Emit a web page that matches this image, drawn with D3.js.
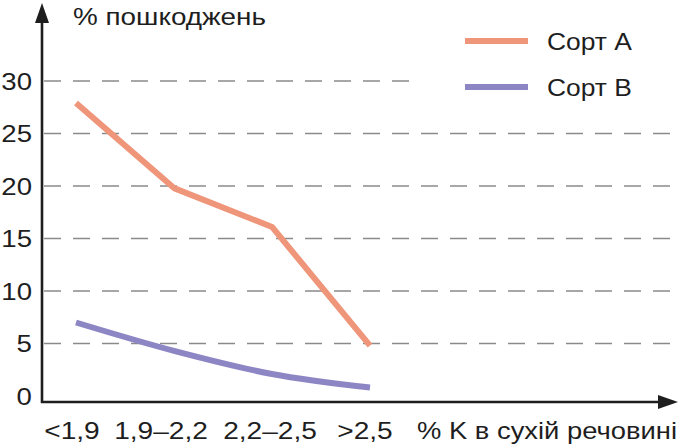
<!DOCTYPE html>
<html>
<head>
<meta charset="utf-8">
<script src="https://cdn.jsdelivr.net/npm/d3@7"></script>
<style>
  body { margin: 0; background: #fff; }
  svg text { font-family: "Liberation Sans", Arial, sans-serif; fill: #1e1e1e; }
</style>
</head>
<body>
<div id="chart"></div>
<script>
// data
var categories = ["<1,9", "1,9\u20132,2", "2,2\u20132,5", ">2,5"];
var sortA = [27.9, 19.8, 16.1, 4.8];
var sortB = [7.0, 4.3, 2.1, 0.8];
var yTicks = [0, 5, 10, 15, 20, 25, 30];
var seriesNames = ["Сорт A", "Сорт B"];

var width = 680, height = 448;
var colors = ["#ef9579", "#8d86c4"];

var svg = d3.select("#chart").append("svg")
    .attr("width", width)
    .attr("height", height);

var axisX = 42, axisY = 402;

var x = d3.scalePoint()
    .domain(categories)
    .range([76, 370]);

var y = d3.scaleLinear()
    .domain([0, 30])
    .range([396, 81]);

// the original type is a wide grotesque, so stretch the glyphs a bit
function widen(sel, k) {
    sel.each(function() {
        var w = this.getComputedTextLength();
        d3.select(this)
            .attr("textLength", w * k)
            .attr("lengthAdjust", "spacingAndGlyphs");
    });
}

// dashed grid lines, the top one stops short of the legend
svg.append("g")
    .selectAll("line")
    .data(yTicks.filter(d => d > 0))
    .enter()
    .append("line")
    .attr("x1", axisX + 2)
    .attr("x2", d => d === 30 ? 412 : width)
    .attr("y1", d => y(d))
    .attr("y2", d => y(d))
    .attr("stroke", "#8a8a8a")
    .attr("stroke-width", 1.6)
    .attr("stroke-dasharray", "17,12");

// y tick labels
svg.append("g")
    .selectAll("text")
    .data(yTicks)
    .enter()
    .append("text")
    .attr("x", 32)
    .attr("y", d => y(d))
    .attr("dy", "0.36em")
    .attr("text-anchor", "end")
    .attr("font-size", 24)
    .text(d => d)
    .call(widen, 1.15);

// x tick labels
svg.append("g")
    .selectAll("text")
    .data(categories)
    .enter()
    .append("text")
    .attr("x", (d, i) => x(d) - [4, 13, 2, 5][i])
    .attr("y", 439)
    .attr("text-anchor", "middle")
    .attr("font-size", 24)
    .text(d => d)
    .call(widen, 1.17);

// lines
var lineA = d3.line()
    .x((d, i) => x(categories[i]))
    .y(d => y(d));

var lineB = d3.line()
    .x((d, i) => x(categories[i]))
    .y(d => y(d))
    .curve(d3.curveMonotoneX);

svg.append("path")
    .attr("d", lineA(sortA))
    .attr("fill", "none")
    .attr("stroke", colors[0])
    .attr("stroke-width", 6)
    .attr("stroke-linejoin", "round");

svg.append("path")
    .attr("d", lineB(sortB))
    .attr("fill", "none")
    .attr("stroke", colors[1])
    .attr("stroke-width", 6)
    .attr("stroke-linejoin", "round");

// axes with arrow heads
svg.append("line")
    .attr("x1", axisX).attr("x2", axisX)
    .attr("y1", axisY + 1).attr("y2", 16)
    .attr("stroke", "#1e1e1e")
    .attr("stroke-width", 2.6);

svg.append("path")
    .attr("d", "M" + axisX + ",3L" + (axisX - 7) + ",23L" + (axisX + 7) + ",23Z")
    .attr("fill", "#1e1e1e");

svg.append("line")
    .attr("x1", axisX - 1).attr("x2", 664)
    .attr("y1", axisY).attr("y2", axisY)
    .attr("stroke", "#1e1e1e")
    .attr("stroke-width", 2.6);

svg.append("path")
    .attr("d", "M678," + axisY + "L658," + (axisY - 7) + "L658," + (axisY + 7) + "Z")
    .attr("fill", "#1e1e1e");

// axis titles
svg.append("text")
    .attr("x", 73)
    .attr("y", 25)
    .attr("font-size", 24)
    .text("% пошкоджень")
    .call(widen, 1.16);

svg.append("text")
    .attr("x", 677)
    .attr("y", 439)
    .attr("text-anchor", "end")
    .attr("font-size", 24)
    .text("% K в сухій речовині")
    .call(widen, 1.14);

// legend
var legend = svg.append("g")
    .selectAll("g")
    .data(seriesNames)
    .enter()
    .append("g")
    .attr("transform", (d, i) => "translate(465," + (41 + i * 46) + ")");

legend.append("line")
    .attr("x1", 0).attr("x2", 63)
    .attr("stroke", (d, i) => colors[i])
    .attr("stroke-width", 6);

legend.append("text")
    .attr("x", 82)
    .attr("dy", "0.36em")
    .attr("font-size", 24)
    .text(d => d)
    .call(widen, 1.1);
</script>
</body>
</html>
